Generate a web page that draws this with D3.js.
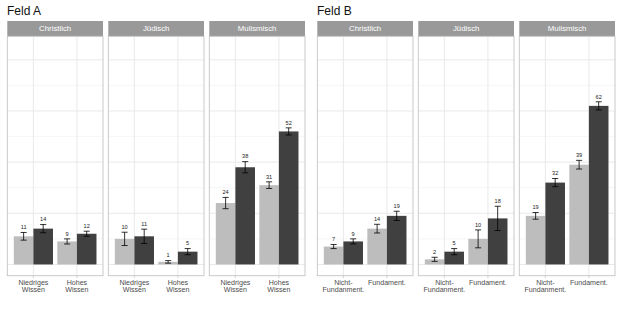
<!DOCTYPE html>
<html>
<head>
<meta charset="utf-8">
<script src="https://cdn.jsdelivr.net/npm/d3@7"></script>
<style>
  body { margin: 0; background: #fff; }
  text { font-family: "Liberation Sans", Arial, sans-serif; font-weight: normal; }
</style>
</head>
<body>
<svg id="chart" width="620" height="310"></svg>
<script>
// Data
const fields = ["Feld A", "Feld B"];
const religions = ["Christlich", "Jüdisch", "Mulismisch"];
const categoriesA = ["Niedriges\nWissen", "Hohes\nWissen"];
const categoriesB = ["Nicht-\nFundanment.", "Fundament."];

// values per religion -> [category1, category2]
const lightA = [[11, 9], [10, 1], [24, 31]];
const darkA  = [[14, 12], [11, 5], [38, 52]];
const lightB = [[7, 14], [2, 10], [19, 39]];
const darkB  = [[9, 19], [5, 18], [32, 62]];

// half-width of confidence intervals
const errLightA = [[1.5, 1.0], [2.6, 0.5], [2.2, 1.3]];
const errDarkA  = [[1.6, 1.0], [2.8, 1.2], [2.2, 1.4]];
const errLightB = [[0.8, 1.7], [0.8, 3.5], [1.3, 1.7]];
const errDarkB  = [[1.0, 1.8], [1.2, 4.75], [1.6, 1.6]];

const yMajor = [0, 20, 40, 60, 80];
const yMinor = [10, 30, 50, 70];

const fieldData = [
    { cats: categoriesA, light: lightA, dark: darkA, errL: errLightA, errD: errDarkA },
    { cats: categoriesB, light: lightB, dark: darkB, errL: errLightB, errD: errDarkB }
];

const svg = d3.select("#chart");
const colLight = "#bdbdbd", colDark = "#404040";

const panelW = 95.7, gap = 5.3, plotLeft = 7.3;
const stripTop = 21, stripH = 15.3;
const panelTop = stripTop + stripH, panelBottom = 275.7;

const y = d3.scaleLinear().domain([-4.4, 89.2]).range([panelBottom, panelTop]);

fields.forEach((field, fi) => {
    const offX = fi * 310;
    const fd = fieldData[fi];
    const g = svg.append("g").attr("transform", `translate(${offX},0)`);

    // Title
    g.append("text")
        .attr("x", 7)
        .attr("y", 15)
        .style("font-size", "12px")
        .style("fill", "#111")
        .text(field);

    religions.forEach((rel, ri) => {
        const left = plotLeft + ri * (panelW + gap);
        const p = g.append("g").attr("transform", `translate(${left},0)`);

        const x = d3.scalePoint().domain(fd.cats).range([0, panelW]).padding(0.6);
        const step = x.step();
        const bw = step * 0.45;

        // Strip
        p.append("rect")
            .attr("x", 0).attr("y", stripTop)
            .attr("width", panelW).attr("height", stripH)
            .style("fill", "#999999");
        p.append("text")
            .attr("x", panelW / 2).attr("y", stripTop + stripH / 2 + 2.8)
            .attr("text-anchor", "middle")
            .style("font-size", "7.8px")
            .style("fill", "#ffffff")
            .text(rel);

        // Grid
        p.selectAll(".minor").data(yMinor).enter().append("line")
            .attr("x1", 0).attr("x2", panelW)
            .attr("y1", d => y(d)).attr("y2", d => y(d))
            .style("stroke", "#f0f0f0").style("stroke-width", 0.6);
        p.selectAll(".major").data(yMajor).enter().append("line")
            .attr("x1", 0).attr("x2", panelW)
            .attr("y1", d => y(d)).attr("y2", d => y(d))
            .style("stroke", "#e6e6e6").style("stroke-width", 0.9);
        p.selectAll(".vgrid").data(fd.cats).enter().append("line")
            .attr("x1", d => x(d)).attr("x2", d => x(d))
            .attr("y1", panelTop).attr("y2", panelBottom)
            .style("stroke", "#e6e6e6").style("stroke-width", 0.9);

        // Bars and error bars
        const rows = [];
        fd.cats.forEach((c, ci) => {
            rows.push({ cat: c, dx: -bw / 2, v: fd.light[ri][ci], e: fd.errL[ri][ci], col: colLight });
            rows.push({ cat: c, dx: bw / 2, v: fd.dark[ri][ci], e: fd.errD[ri][ci], col: colDark });
        });

        p.selectAll(".bar").data(rows).enter().append("rect")
            .attr("x", d => x(d.cat) + d.dx - bw / 2)
            .attr("y", d => y(d.v))
            .attr("width", bw)
            .attr("height", d => y(0) - y(d.v))
            .style("fill", d => d.col);

        const cap = step * 0.07;
        const eb = p.selectAll(".err").data(rows).enter().append("g")
            .style("stroke", "#000").style("stroke-width", 0.8);
        eb.append("line")
            .attr("x1", d => x(d.cat) + d.dx).attr("x2", d => x(d.cat) + d.dx)
            .attr("y1", d => y(d.v - d.e)).attr("y2", d => y(d.v + d.e));
        eb.append("line")
            .attr("x1", d => x(d.cat) + d.dx - cap).attr("x2", d => x(d.cat) + d.dx + cap)
            .attr("y1", d => y(d.v + d.e)).attr("y2", d => y(d.v + d.e));
        eb.append("line")
            .attr("x1", d => x(d.cat) + d.dx - cap).attr("x2", d => x(d.cat) + d.dx + cap)
            .attr("y1", d => y(d.v - d.e)).attr("y2", d => y(d.v - d.e));

        // Value labels
        p.selectAll(".lab").data(rows).enter().append("text")
            .attr("x", d => x(d.cat) + d.dx)
            .attr("y", d => y(d.v + d.e) - 3.2)
            .attr("text-anchor", "middle")
            .style("font-size", "5.6px")
            .style("fill", "#222")
            .text(d => d.v);

        // Panel border
        p.append("rect")
            .attr("x", 0).attr("y", panelTop)
            .attr("width", panelW).attr("height", panelBottom - panelTop)
            .style("fill", "none")
            .style("stroke", "#c4c4c4").style("stroke-width", 0.9);

        // Ticks and x labels
        p.selectAll(".tick").data(fd.cats).enter().append("line")
            .attr("x1", d => x(d)).attr("x2", d => x(d))
            .attr("y1", panelBottom).attr("y2", panelBottom + 2.5)
            .style("stroke", "#c4c4c4").style("stroke-width", 0.7);

        const labs = p.selectAll(".xl").data(fd.cats).enter().append("text")
            .attr("text-anchor", "middle")
            .style("font-size", "7.1px")
            .style("fill", "#4d4d4d");
        labs.each(function (d) {
            const lines = d.split("\n");
            lines.forEach((ln, li) => {
                d3.select(this).append("tspan")
                    .attr("x", x(d))
                    .attr("y", 284.6 + li * 7)
                    .text(ln);
            });
        });
    });
});
</script>
</body>
</html>
